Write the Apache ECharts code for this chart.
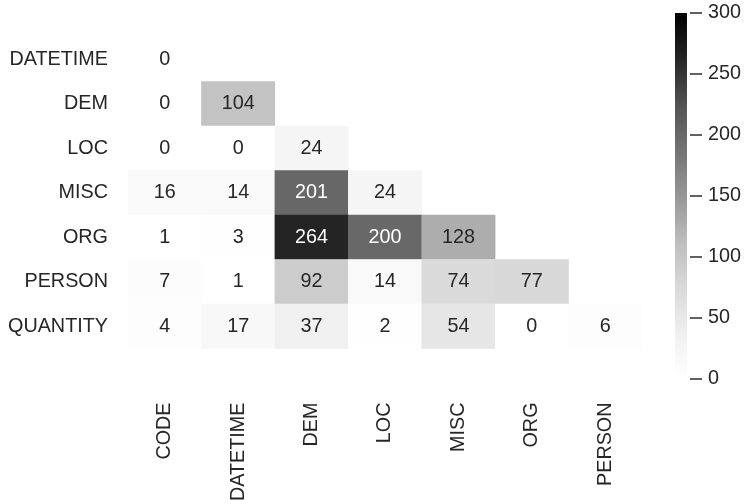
<!DOCTYPE html>
<html>
<head>
<meta charset="utf-8">
<script src="https://cdn.jsdelivr.net/npm/echarts@6/dist/echarts.min.js"></script>
<style>
html,body{margin:0;padding:0;background:#fff;}
#chart{width:744px;height:504px;}
</style>
</head>
<body>
<div id="chart"></div>
<script>
const xCategories = ['CODE','DATETIME','DEM','LOC','MISC','ORG','PERSON'];
const yCategories = ['DATETIME','DEM','LOC','MISC','ORG','PERSON','QUANTITY'];
const rowDATETIME = [0];
const rowDEM = [0,104];
const rowLOC = [0,0,24];
const rowMISC = [16,14,201,24];
const rowORG = [1,3,264,200,128];
const rowPERSON = [7,1,92,14,74,77];
const rowQUANTITY = [4,17,37,2,54,0,6];
const rows = [rowDATETIME,rowDEM,rowLOC,rowMISC,rowORG,rowPERSON,rowQUANTITY];
const colorbarTicks = [0,50,100,150,200,250,300];
const colorMin = 0;
const colorMax = 300;

const greys = ['#ffffff','#f0f0f0','#d9d9d9','#bdbdbd','#969696','#737373','#525252','#252525','#000000'];
const FONT = 'Liberation Sans, Arial, sans-serif';
const TXT = '#262626';

const data = [];
rows.forEach((r, i) => {
  r.forEach((v, j) => {
    data.push({value:[j, i, v], label:{color: v > 150 ? '#ffffff' : TXT}});
  });
});

const gradStops = greys.map((c, k) => ({offset: 1 - k / (greys.length - 1), color: c})).reverse();

const chart = echarts.init(document.getElementById('chart'), null, {renderer:'canvas'});
chart.setOption({
  animation:false,
  backgroundColor:'#ffffff',
  textStyle:{fontFamily:FONT},
  grid:[
    {left:128, width:514, top:37, height:319},
    {left:675, width:18, top:13, height:366}
  ],
  xAxis:[
    {type:'category', data:xCategories, gridIndex:0, position:'bottom',
     axisLine:{show:false}, axisTick:{show:false}, splitLine:{show:false},
     axisLabel:{rotate:90, margin:54, fontSize:19.8, color:TXT, fontFamily:FONT, interval:0}},
    {type:'category', data:['cb'], gridIndex:1, show:false}
  ],
  yAxis:[
    {type:'category', data:yCategories, gridIndex:0, inverse:true,
     axisLine:{show:false}, axisTick:{show:false}, splitLine:{show:false},
     axisLabel:{margin:20, fontSize:19.8, color:TXT, fontFamily:FONT, interval:0}},
    {type:'value', gridIndex:1, min:colorMin, max:colorMax, interval:50, position:'right',
     axisLine:{show:false}, splitLine:{show:false}, axisTick:{show:false},
     axisLabel:{margin:21, fontSize:19.8, color:TXT, fontFamily:FONT}}
  ],
  visualMap:{
    type:'continuous', min:colorMin, max:colorMax, seriesIndex:0,
    show:false, inRange:{color:greys}
  },
  series:[{
    type:'heatmap', xAxisIndex:0, yAxisIndex:0, data:data,
    label:{show:true, fontSize:19.8, fontFamily:FONT, formatter:p => String(p.value[2])},
    itemStyle:{borderWidth:0},
    emphasis:{disabled:true}
  },{
    type:'bar', xAxisIndex:1, yAxisIndex:1, data:[colorMax], barWidth:'100%',
    itemStyle:{color:new echarts.graphic.LinearGradient(0,0,0,1,gradStops)},
    emphasis:{disabled:true}, silent:true
  },{
    type:'scatter', xAxisIndex:1, yAxisIndex:1,
    data:colorbarTicks.map(t => ['cb', t]),
    symbol:'rect', symbolSize:[12,1.8], symbolOffset:[15,0],
    itemStyle:{color:TXT}, emphasis:{disabled:true}, silent:true
  }]
});
</script>
</body>
</html>
